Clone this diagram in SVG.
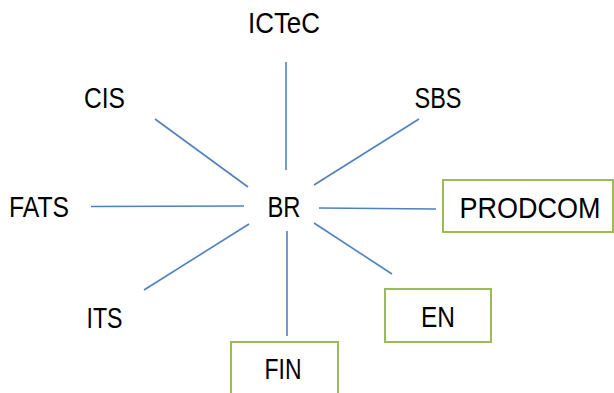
<svg xmlns="http://www.w3.org/2000/svg" width="614" height="393" viewBox="0 0 614 393">
<style>
.t{font-family:"Liberation Sans",Arial,sans-serif;font-size:29px;fill:#000;text-anchor:middle}
.c{stroke:#4f81bd;stroke-width:1.6;fill:none}
.b{fill:#fff;stroke:#9bbb59;stroke-width:2}
</style>
<rect width="614" height="393" fill="#fff"/>
<g id="connectors">
<line class="c" x1="286" y1="62" x2="286" y2="170"/>
<line class="c" x1="155" y1="119" x2="248" y2="187"/>
<line class="c" x1="419" y1="119" x2="314" y2="185"/>
<line class="c" x1="91" y1="206.5" x2="244" y2="206"/>
<line class="c" x1="319" y1="208" x2="436" y2="209"/>
<line class="c" x1="144" y1="290" x2="249" y2="224"/>
<line class="c" x1="314" y1="223" x2="392" y2="274"/>
<line class="c" x1="287" y1="231" x2="287" y2="336"/>
</g>
<g id="BR"><text class="t" x="284" y="217" textLength="33" lengthAdjust="spacingAndGlyphs">BR</text></g>
<g id="ICTeC"><text class="t" x="284" y="33" textLength="72" lengthAdjust="spacingAndGlyphs">ICTeC</text></g>
<g id="CIS"><text class="t" x="104.5" y="108" textLength="41" lengthAdjust="spacingAndGlyphs">CIS</text></g>
<g id="SBS"><text class="t" x="438" y="108" textLength="47" lengthAdjust="spacingAndGlyphs">SBS</text></g>
<g id="FATS"><text class="t" x="39" y="217" textLength="60" lengthAdjust="spacingAndGlyphs">FATS</text></g>
<g id="ITS"><text class="t" x="104.5" y="328" textLength="36" lengthAdjust="spacingAndGlyphs">ITS</text></g>
<g id="PRODCOM"><rect class="b" x="443" y="180" width="170" height="52"/><text class="t" x="530" y="217.5" textLength="141" lengthAdjust="spacingAndGlyphs">PRODCOM</text></g>
<g id="EN"><rect class="b" x="385" y="289" width="106" height="53"/><text class="t" x="438" y="326.5" textLength="34" lengthAdjust="spacingAndGlyphs">EN</text></g>
<g id="FIN"><rect class="b" x="231" y="342" width="107" height="60"/><text class="t" x="283" y="379" textLength="37" lengthAdjust="spacingAndGlyphs">FIN</text></g>
</svg>
